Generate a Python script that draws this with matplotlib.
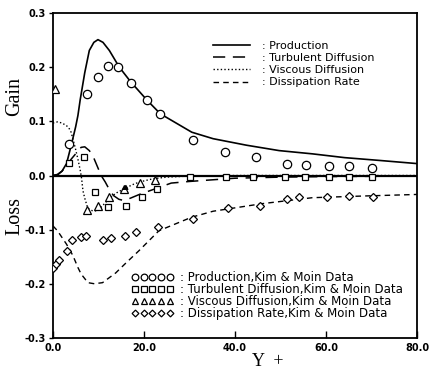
import numpy as np
import matplotlib.pyplot as plt
from matplotlib.lines import Line2D

plt.rcParams['axes.unicode_minus'] = False

# Model curves
prod_x = [0, 1, 2, 3, 4, 5, 5.5, 6, 6.6, 7, 8, 9, 9.9, 11, 12.4, 14.6, 17.1, 20.7, 23.6,
          30.5, 35.2, 42.5, 49.7, 57, 64.1, 71.5, 80]
prod_y = [0, 0.001, 0.008, 0.022, 0.055, 0.09, 0.111, 0.14, 0.17, 0.19, 0.231, 0.246, 0.251,
          0.246, 0.231, 0.2, 0.173, 0.139, 0.114, 0.08, 0.068, 0.056, 0.046, 0.04, 0.033, 0.028, 0.022]

turb_x = [0, 1, 2, 3, 4, 5, 5.5, 6.2, 7, 8, 8.8, 9.5, 10, 10.6, 11.5, 12.4, 13.3, 14.5, 15.5,
          17, 19, 22, 26, 30, 35, 40, 50, 60, 80]
turb_y = [0, 0.002, 0.008, 0.018, 0.03, 0.04, 0.045, 0.052, 0.053, 0.046, 0.036, 0.022, 0.012,
          0, -0.012, -0.026, -0.037, -0.044, -0.046, -0.042, -0.035, -0.026, -0.014, -0.011,
          -0.008, -0.005, -0.003, -0.002, -0.001]

visc_x = [0, 1, 2, 3, 3.5, 4, 4.5, 5, 5.5, 6, 6.3, 6.6, 7, 7.5, 8, 9, 10, 11, 12, 13, 14, 16,
          18, 20, 22, 25, 30, 40, 80]
visc_y = [0.097, 0.099, 0.097, 0.092, 0.088, 0.08, 0.064, 0.048, 0.03, 0.01, -0.005, -0.028,
          -0.042, -0.056, -0.063, -0.066, -0.064, -0.055, -0.046, -0.038, -0.032, -0.023,
          -0.015, -0.010, -0.006, -0.003, -0.001, 0, 0]

diss_x = [0, 1, 2.2, 3, 4.4, 5.5, 6.2, 7.7, 9.1, 10.9, 13.8, 16, 18.9, 23.3, 30.5, 35.2, 46, 57,
          67.8, 80]
diss_y = [-0.093, -0.102, -0.117, -0.127, -0.148, -0.170, -0.182, -0.198, -0.200, -0.198,
          -0.180, -0.162, -0.139, -0.102, -0.077, -0.066, -0.052, -0.041, -0.038, -0.035]

# Kim & Moin data points
km_prod_x = [3.6, 7.5, 9.9, 12.0, 14.3, 17.1, 20.6, 23.6, 30.7, 37.8, 44.7, 51.5, 55.5, 60.6, 65.0, 70.0]
km_prod_y = [0.059, 0.151, 0.182, 0.202, 0.200, 0.170, 0.139, 0.113, 0.066, 0.044, 0.035, 0.022,
             0.020, 0.017, 0.017, 0.014]

km_turb_x = [3.6, 6.9, 9.2, 12.2, 16.0, 19.6, 22.8, 30.1, 38, 44, 51, 55.4, 60.6, 65, 70]
km_turb_y = [0.023, 0.034, -0.030, -0.058, -0.056, -0.040, -0.025, -0.002, -0.003, -0.003,
             -0.003, -0.003, -0.003, -0.003, -0.003]

km_visc_x = [0.4, 7.5, 9.9, 12.4, 15.7, 19.2, 22.4]
km_visc_y = [0.160, -0.064, -0.057, -0.040, -0.025, -0.013, -0.009]

km_diss_x = [0.0, 0.6, 1.3, 3.2, 4.3, 6.1, 7.2, 10.9, 12.8, 15.8, 18.2, 23.1, 30.7, 38.5, 45.4,
             51.5, 54.1, 60.2, 65.0, 70.4]
km_diss_y = [-0.171, -0.164, -0.156, -0.139, -0.120, -0.114, -0.112, -0.119, -0.116, -0.111,
             -0.105, -0.096, -0.080, -0.060, -0.056, -0.044, -0.040, -0.040, -0.037, -0.040]

xticks = [0, 20, 40, 60, 80]
yticks = [-0.3, -0.2, -0.1, 0.0, 0.1, 0.2, 0.3]

fig = plt.figure(figsize=(4.3, 3.75), dpi=100)
ax = fig.add_axes([0.123, 0.099, 0.847, 0.866])

ax.axhline(0, color='black', lw=1.6, zorder=1)

l1, = ax.plot(prod_x, prod_y, color='black', lw=1.2)
l2, = ax.plot(turb_x, turb_y, color='black', lw=1.1, dashes=(8, 5))
l3, = ax.plot(visc_x, visc_y, color='black', lw=1.0, dashes=(1, 1.6))
l4, = ax.plot(diss_x, diss_y, color='black', lw=1.0, dashes=(4, 3))

mk = dict(color='black', mfc='white', mec='black', mew=0.9, ls='none', zorder=3)
m1, = ax.plot(km_prod_x, km_prod_y, marker='o', ms=6, **mk)
m2, = ax.plot(km_turb_x, km_turb_y, marker='s', ms=5, **mk)
m3, = ax.plot(km_visc_x, km_visc_y, marker='^', ms=5.5, **mk)
m4, = ax.plot(km_diss_x, km_diss_y, marker='D', ms=4.3, **mk)

# little arrowhead on the viscous diffusion curve
ax.annotate('', xy=(14.6, -0.029), xytext=(16.5, -0.021),
            arrowprops=dict(arrowstyle='-|>', color='black', lw=0.8, mutation_scale=8))

ax.set_xlim(0, 80)
ax.set_ylim(-0.3, 0.3)
ax.set_xticks(xticks)
ax.set_xticklabels(['%.1f' % v for v in xticks], fontweight='bold', fontsize=7)
ax.set_yticks(yticks)
ax.set_yticklabels(['%.1f' % v for v in yticks], fontweight='bold', fontsize=7)
ax.tick_params(axis='x', direction='in', length=5, width=1, pad=4)
ax.tick_params(axis='y', direction='out', length=3, width=1, pad=2)
for s in ax.spines.values():
    s.set_linewidth(1.3)

leg1 = ax.legend([l1, l2, l3, l4],
                 [': Production', ': Turbulent Diffusion', ': Viscous Diffusion', ': Dissipation Rate'],
                 loc='upper left', bbox_to_anchor=(0.44, 0.915), frameon=False,
                 fontsize=8, handlelength=3.3, handletextpad=1.1, labelspacing=0.2,
                 borderaxespad=0, borderpad=0)
ax.add_artist(leg1)
ax.legend([m1, m2, m3, m4],
          [': Production,Kim & Moin Data', ': Turbulent Diffusion,Kim & Moin Data',
           ': Viscous Diffusion,Kim & Moin Data', ': Dissipation Rate,Kim & Moin Data'],
          loc='lower left', bbox_to_anchor=(0.215, 0.056), frameon=False, numpoints=5,
          markerscale=0.8, fontsize=8.5, handlelength=3.6, handletextpad=0.5,
          labelspacing=-0.1, borderaxespad=0, borderpad=0)

fig.text(15 / 430, 1 - 97 / 375, 'Gain', rotation=90, ha='center', va='center',
         family='Liberation Serif', fontsize=14.5)
fig.text(15 / 430, 1 - 216 / 375, 'Loss', rotation=90, ha='center', va='center',
         family='Liberation Serif', fontsize=14.5)
fig.text(268 / 430, 1 - 361 / 375, 'Y  +', ha='center', va='center',
         family='Liberation Serif', fontsize=13)

fig.savefig('out.png', dpi=100)
